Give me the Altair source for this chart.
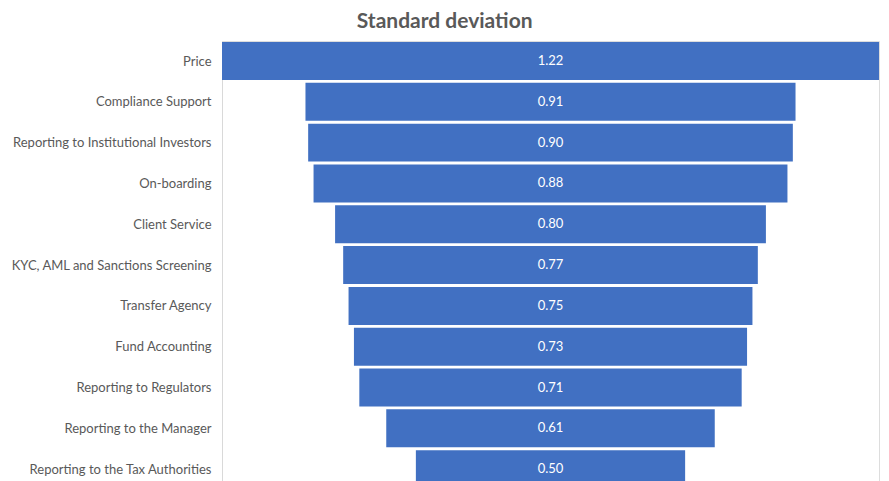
import altair as alt
import pandas as pd

# Services ranked by the spread (standard deviation) of their scores
categories = [
    "Price",
    "Compliance Support",
    "Reporting to Institutional Investors",
    "On-boarding",
    "Client Service",
    "KYC, AML and Sanctions Screening",
    "Transfer Agency",
    "Fund Accounting",
    "Reporting to Regulators",
    "Reporting to the Manager",
    "Reporting to the Tax Authorities",
]
std_dev = [1.22, 0.91, 0.90, 0.88, 0.80, 0.77, 0.75, 0.73, 0.71, 0.61, 0.50]

df = pd.DataFrame({
    "idx": list(range(len(categories))),
    "category": categories,
    "value": std_dev,
})

FONT = "Lato"
BLUE = "#4170C2"
GREY = "#595959"

# Row index -> category name for the axis labels
label_expr = "[" + ",".join("'" + c + "'" for c in categories) + "][datum.value]"

y_scale = alt.Scale(domain=[-0.49, 10.29], reverse=True, nice=False, zero=False)
x_scale = alt.Scale(domain=[-0.61, 0.61], nice=False, zero=False)

base = alt.Chart(df).transform_calculate(
    lo="-datum.value / 2",
    hi="datum.value / 2",
    top="datum.idx - 0.465",
    bottom="datum.idx + 0.465",
    mid="0",
)

# Centred bars give the funnel shape
bars = base.mark_bar(color=BLUE, clip=True).encode(
    x=alt.X("lo:Q", scale=x_scale, axis=None),
    x2="hi:Q",
    y=alt.Y(
        "top:Q",
        scale=y_scale,
        axis=alt.Axis(
            values=list(range(len(categories))),
            labelExpr=label_expr,
            grid=False,
            ticks=False,
            title=None,
            domainColor="#d9d9d9",
            domainWidth=1,
            labelFont=FONT,
            labelFontSize=13,
            labelColor=GREY,
            labelPadding=11,
            labelLimit=400,
            labelBaseline="middle",
            labelBound=False,
            labelFlush=False,
            labelOverlap=False,
        ),
    ),
    y2="bottom:Q",
)

labels = base.mark_text(
    color="white", font=FONT, fontSize=13, baseline="middle", align="center", clip=True
).encode(
    x=alt.X("mid:Q", scale=x_scale, axis=None),
    y=alt.Y("idx:Q", scale=y_scale),
    text=alt.Text("value:Q", format=".2f"),
)

chart = (
    alt.layer(bars, labels)
    .properties(
        width=657,
        height=440,
        title=alt.TitleParams(
            "Standard deviation",
            font=FONT,
            fontSize=21,
            fontWeight="bold",
            color=GREY,
            anchor="middle",
            frame="bounds",
            offset=9,
        ),
        autosize=alt.AutoSizeParams(type="none"),
        padding={"left": 222, "top": 41, "right": 10, "bottom": 0},
    )
    .configure_view(stroke="transparent", strokeWidth=0)
    .configure(background="white")
)

chart.save("out.html", embed_options={"renderer": "svg", "actions": False})
